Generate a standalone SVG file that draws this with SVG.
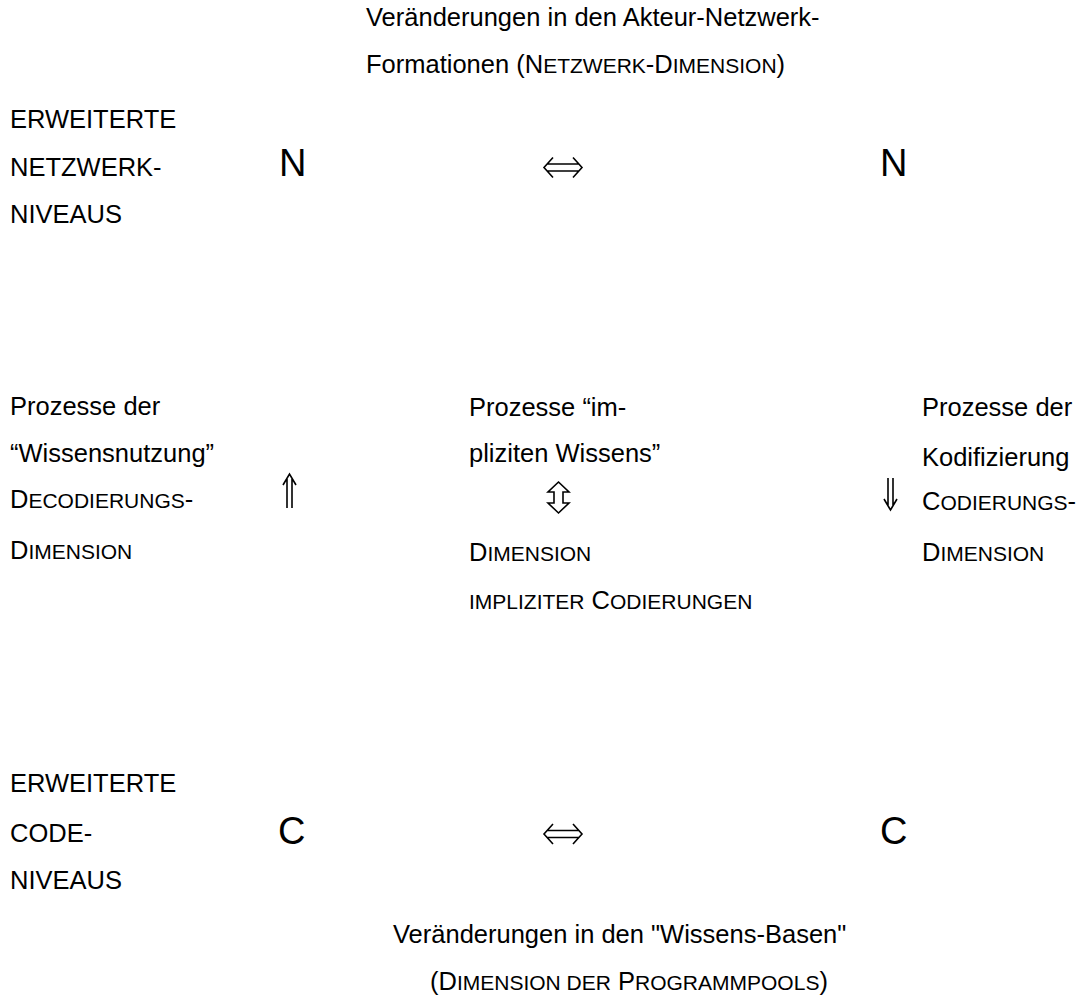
<svg xmlns="http://www.w3.org/2000/svg" width="1084" height="1000" viewBox="0 0 1084 1000">
<style>
text{font-family:"Liberation Sans",Arial,sans-serif;font-size:25.5px;fill:#000}
.sc{font-size:21px}
.big{font-size:38px}
.arrow{fill:none;stroke:#000;stroke-width:1.6;stroke-linejoin:miter;stroke-linecap:butt}
</style>
<rect width="1084" height="1000" fill="#fff"/>
<g id="top-label">
<text x="366" y="26">Veränderungen in den Akteur-Netzwerk-</text>
<text x="366" y="73">Formationen (N<tspan class="sc">ETZWERK</tspan>-D<tspan class="sc">IMENSION</tspan>)</text>
</g>
<g id="network-levels">
<text x="10" y="128">ERWEITERTE</text>
<text x="10" y="176">NETZWERK-</text>
<text x="10" y="223">NIVEAUS</text>
</g>
<g id="node-N-left"><text class="big" x="279" y="176">N</text></g>
<g id="node-N-right"><text class="big" x="880" y="176">N</text></g>
<g id="decoding">
<text x="10" y="415">Prozesse der</text>
<text x="10" y="462">“Wissensnutzung”</text>
<text x="10" y="508">D<tspan class="sc">ECODIERUNGS</tspan>-</text>
<text x="10" y="559">D<tspan class="sc">IMENSION</tspan></text>
</g>
<g id="implicit">
<text x="469" y="416">Prozesse “im-</text>
<text x="469" y="462">pliziten Wissens”</text>
<text x="469" y="561">D<tspan class="sc">IMENSION</tspan></text>
<text x="469" y="609"><tspan class="sc">IMPLIZITER</tspan> C<tspan class="sc">ODIERUNGEN</tspan></text>
</g>
<g id="coding">
<text x="922" y="416">Prozesse der</text>
<text x="922" y="466">Kodifizierung</text>
<text x="922" y="510">C<tspan class="sc">ODIERUNGS</tspan>-</text>
<text x="922" y="561">D<tspan class="sc">IMENSION</tspan></text>
</g>
<g id="code-levels">
<text x="10" y="792">ERWEITERTE</text>
<text x="10" y="842">CODE-</text>
<text x="10" y="889">NIVEAUS</text>
</g>
<g id="node-C-left"><text class="big" x="278" y="844">C</text></g>
<g id="node-C-right"><text class="big" x="880" y="844">C</text></g>
<g id="bottom-label">
<text x="393" y="943">Veränderungen in den "Wissens-Basen"</text>
<text x="430" y="990">(D<tspan class="sc">IMENSION DER</tspan> P<tspan class="sc">ROGRAMMPOOLS</tspan>)</text>
</g>
<g id="connectors">
<path class="arrow" d="M553,157.5 L544,167.5 L553,177.5 M573,157.5 L582,167.5 L573,177.5 M547,164 H579 M547,171 H579"/>
<path class="arrow" d="M553,824 L544,834 L553,844 M573,824 L582,834 L573,844 M547,830.5 H579 M547,837.5 H579"/>
<path class="arrow" d="M283,485 L289.5,474 L296,485 M287,479 V508 M292,479 V508"/>
<path class="arrow" d="M884,499 L890.5,510 L897,499 M888,478 V505 M893,478 V505"/>
<path class="arrow" d="M558.5,482 L569,492 H563 V503 H569 L558.5,513 L548,503 H554 V492 H548 Z"/>
</g>
</svg>
